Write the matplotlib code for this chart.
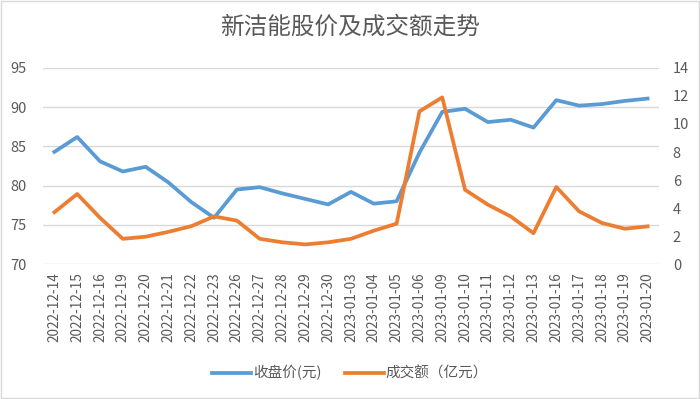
import matplotlib
matplotlib.use('Agg')
import matplotlib.pyplot as plt
from matplotlib.patches import Rectangle

plt.rcParams['font.family'] = ['Noto Sans CJK SC', 'DejaVu Sans']

# data
dates = ['2022-12-14', '2022-12-15', '2022-12-16', '2022-12-19', '2022-12-20',
         '2022-12-21', '2022-12-22', '2022-12-23', '2022-12-26', '2022-12-27',
         '2022-12-28', '2022-12-29', '2022-12-30', '2023-01-03', '2023-01-04',
         '2023-01-05', '2023-01-06', '2023-01-09', '2023-01-10', '2023-01-11',
         '2023-01-12', '2023-01-13', '2023-01-16', '2023-01-17', '2023-01-18',
         '2023-01-19', '2023-01-20']
close_price = [84.3, 86.2, 83.1, 81.8, 82.4, 80.4, 77.9, 75.9, 79.5, 79.8,
               79.0, 78.3, 77.6, 79.2, 77.7, 78.0, 84.2, 89.4, 89.8, 88.1,
               88.4, 87.4, 90.9, 90.2, 90.4, 90.8, 91.1]
turnover = [3.7, 5.0, 3.3, 1.8, 1.95, 2.3, 2.7, 3.4, 3.1, 1.8,
            1.55, 1.4, 1.55, 1.8, 2.38, 2.88, 10.9, 11.9, 5.3, 4.24,
            3.4, 2.2, 5.5, 3.76, 2.93, 2.52, 2.69]
left_ticks = [70, 75, 80, 85, 90, 95]
right_ticks = [0, 2, 4, 6, 8, 10, 12, 14]

blue = '#5B9BD5'
orange = '#ED7D31'
grey = '#595959'

fig = plt.figure(figsize=(7, 3.99), dpi=100)
fig.patches.append(Rectangle((0.002, 0.003), 0.996, 0.994, transform=fig.transFigure,
                             fill=False, edgecolor='#d9d9d9', linewidth=1))
ax = fig.add_axes([0.0614, 0.3383, 0.88, 0.4913])
ax2 = ax.twinx()

x = list(range(len(dates)))
l1, = ax.plot(x, close_price, color=blue, lw=2.7, solid_joinstyle='round', label='收盘价(元)')
l2, = ax2.plot(x, turnover, color=orange, lw=2.7, solid_joinstyle='round', label='成交额（亿元）')

ax.set_ylim(70, 95)
ax.set_yticks(left_ticks)
ax2.set_ylim(0, 14)
ax2.set_yticks(right_ticks)
ax.set_xlim(-0.5, len(dates) - 0.5)
ax.set_xticks(x)
ax.set_xticklabels(dates, rotation=90)

ax.grid(axis='y', color='#d9d9d9', lw=1)
ax.set_axisbelow(True)
for a in (ax, ax2):
    for s in a.spines.values():
        s.set_visible(False)
    a.tick_params(length=0, colors=grey, labelsize=10.5)
ax.tick_params(axis='x', labelsize=9.8, pad=6)
ax.tick_params(axis='y', pad=12)
ax2.tick_params(axis='y', pad=10)

fig.suptitle('新洁能股价及成交额走势', y=0.96, fontsize=17, color=grey, fontweight='light')
fig.legend(handles=[l1, l2], loc='center', bbox_to_anchor=(0.5, 0.065), ncol=2,
           frameon=False, fontsize=10.5, labelcolor=grey, handlelength=2.7,
           handletextpad=0.1, columnspacing=1.6)

fig.savefig('out.png', dpi=100)
